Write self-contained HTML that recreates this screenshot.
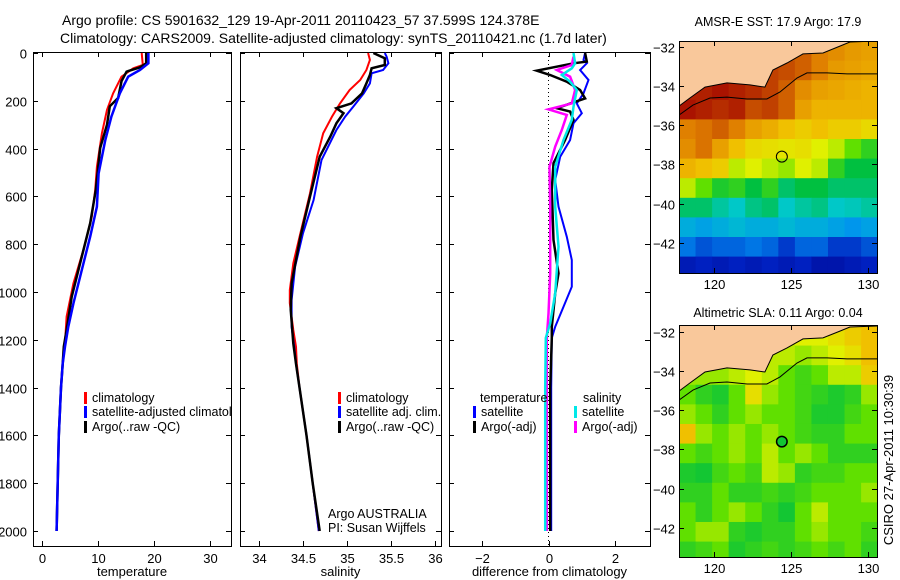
<!DOCTYPE html>
<html><head><meta charset="utf-8">
<style>
html,body{margin:0;padding:0;background:#fff;}
svg{display:block;font-family:"Liberation Sans",sans-serif;}
</style></head>
<body>
<svg id="fig" width="900" height="580" viewBox="0 0 900 580" xmlns="http://www.w3.org/2000/svg"></svg>
<script>
// ---------- DATA ----------
const climTempDepth = [0,50,64,99,169,238,336,476,573,685,824,964,1103,1214,1300,1400,1500,1600];
const climTempVal   = [17.8,18.0,16.3,14.2,12.7,11.6,10.7,9.8,9.5,8.9,7.4,5.6,4.4,4.1,3.7,3.4,3.2,3.0];
const satTempDepth  = [0,43,71,99,169,266,364,504,643,768,908,1048,1145,1229,1300,1400,1500,1600,1800,2000];
const satTempVal    = [19.0,19.0,17.5,15.4,13.9,12.4,11.3,10.1,9.8,8.6,7.1,5.6,4.7,4.1,3.7,3.4,3.2,3.0,2.8,2.6];
const argoTempDepth = [0,43,60,78,118,188,223,300,397,573,712,880,1020,1159,1229,1300,1400,1500,1600,1800,2000];
const argoTempVal   = [18.6,18.6,17.5,15.1,14.2,13.6,12.1,11.6,10.4,9.6,8.6,6.8,5.3,4.4,3.9,3.7,3.4,3.2,3.0,2.8,2.6];

const climSalDepth = [0,29,71,113,155,211,266,336,434,587,754,880,992,1046,1159,1229,1300,1400,1500,1600,1800,2000];
const climSalVal   = [35.24,35.26,35.22,35.15,35.03,34.92,34.83,34.73,34.66,34.58,34.47,34.39,34.35,34.35,34.39,34.42,34.43,34.46,34.50,34.54,34.61,34.68];
const satSalDepth  = [0,15,43,71,85,127,169,225,266,322,448,615,754,894,1034,1145,1229,1300,1400,1500,1600,1800,2000];
const satSalVal    = [35.43,35.45,35.47,35.41,35.28,35.26,35.19,35.07,34.98,34.88,34.71,34.62,34.50,34.41,34.37,34.37,34.40,34.42,34.46,34.50,34.54,34.61,34.68];
const argoSalDepth = [0,22,50,64,92,127,169,211,231,252,294,350,434,601,769,964,1073,1215,1300,1400,1500,1600,1800,2000];
const argoSalVal   = [35.30,35.43,35.43,35.28,35.26,35.22,35.17,35.05,34.88,34.96,34.88,34.81,34.69,34.58,34.47,34.37,34.36,34.39,34.42,34.46,34.50,34.54,34.61,34.69];

const dSatTDepth = [0,29,43,71,113,169,211,252,294,364,434,531,643,769,866,978,1062,1145,1192,1400,1700,2000];
const dSatTVal   = [1.1,1.05,1.15,0.95,1.2,1.05,0.85,1.0,0.75,0.65,0.35,0.2,0.3,0.55,0.7,0.7,0.45,0.2,0.1,0.08,0.08,0.08];
const dArgoTDepth = [0,36,43,74,92,120,155,190,204,231,245,280,364,461,573,782,922,1006,1145,1192,1400,1700,2000];
const dArgoTVal   = [1.1,1.15,0.75,-0.35,0.05,0.55,0.95,1.1,0.8,0.25,0.65,0.75,0.5,0.15,0.1,0.15,0.3,0.2,0.1,0.1,0.05,0.05,0.05];
const dSatSDepth = [0,43,64,92,120,155,225,280,364,476,643,810,1006,1131,1192,1400,1700,2000];
const dSatSVal   = [0.75,0.8,0.7,0.4,0.65,0.85,0.75,0.7,0.45,0.2,0.2,0.3,0.2,0.05,-0.08,-0.1,-0.1,-0.1];
const dArgoSDepth = [15,50,71,99,155,211,236,259,322,392,476,643,922,1090,1192,1500,2000];
const dArgoSVal   = [0.75,0.7,0.25,0.65,0.8,0.7,0.0,0.55,0.4,0.2,0.03,0.05,0.05,0.0,-0.05,-0.05,-0.05];

const depthTicks = [0,200,400,600,800,1000,1200,1400,1600,1800,2000];
const tempTicks = [0,10,20,30];
const salTicks = [34,34.5,35,35.5,36];
const salTickLabels = ["34","34.5","35","35.5","36"];
const diffTicks = [-2,0,2];

const sstGrid = [
[0.9,0.9,0.9,0.9,0.9,0.9,0.85,0.85,0.8,0.78,0.76,0.75],
[0.9,0.9,0.9,0.9,0.9,0.9,0.88,0.85,0.8,0.76,0.75,0.74],
[0.95,0.95,0.97,0.95,0.93,0.9,0.85,0.78,0.75,0.74,0.73,0.72],
[0.97,0.95,0.93,0.95,0.88,0.9,0.85,0.75,0.72,0.72,0.72,0.72],
[0.8,0.82,0.85,0.8,0.75,0.73,0.7,0.68,0.7,0.68,0.68,0.66],
[0.78,0.82,0.75,0.7,0.66,0.65,0.64,0.65,0.62,0.6,0.55,0.5],
[0.72,0.7,0.68,0.6,0.62,0.6,0.58,0.62,0.6,0.5,0.45,0.45],
[0.6,0.55,0.48,0.5,0.45,0.5,0.42,0.45,0.45,0.42,0.42,0.42],
[0.42,0.42,0.38,0.35,0.4,0.42,0.35,0.38,0.4,0.35,0.36,0.38],
[0.3,0.28,0.3,0.32,0.3,0.3,0.32,0.3,0.3,0.28,0.26,0.28],
[0.22,0.18,0.2,0.2,0.22,0.2,0.15,0.2,0.2,0.15,0.15,0.18],
[0.1,0.12,0.1,0.12,0.1,0.12,0.1,0.12,0.08,0.08,0.1,0.12]];
const slaGrid = [
[0.6,0.6,0.6,0.6,0.6,0.6,0.6,0.62,0.62,0.65,0.68,0.7],
[0.6,0.6,0.6,0.6,0.6,0.6,0.6,0.58,0.6,0.62,0.65,0.7],
[0.58,0.58,0.58,0.6,0.62,0.6,0.55,0.52,0.55,0.6,0.6,0.68],
[0.55,0.5,0.48,0.55,0.65,0.58,0.55,0.52,0.5,0.48,0.5,0.58],
[0.58,0.55,0.5,0.55,0.58,0.55,0.55,0.52,0.48,0.48,0.52,0.55],
[0.7,0.58,0.55,0.58,0.55,0.58,0.55,0.52,0.5,0.5,0.55,0.55],
[0.55,0.52,0.55,0.58,0.55,0.6,0.55,0.58,0.55,0.5,0.5,0.5],
[0.48,0.47,0.52,0.55,0.52,0.6,0.58,0.5,0.52,0.52,0.55,0.55],
[0.5,0.5,0.55,0.5,0.5,0.52,0.5,0.52,0.55,0.55,0.55,0.58],
[0.55,0.5,0.55,0.58,0.55,0.5,0.47,0.55,0.6,0.55,0.55,0.55],
[0.55,0.58,0.58,0.5,0.48,0.5,0.5,0.55,0.58,0.55,0.55,0.52],
[0.5,0.52,0.55,0.48,0.5,0.52,0.5,0.52,0.55,0.52,0.55,0.5]];
const coastLon = [117.7,118.41,119.39,120.82,122.31,123.28,123.8,124.71,125.75,127.05,128.15,128.8,130.6];
const coastLat = [-35.02,-34.61,-34.05,-33.84,-33.94,-34.05,-33.18,-32.82,-32.36,-32.31,-31.96,-31.75,-31.7];
const isoLon = [117.7,118.61,119.71,120.82,122.12,123.41,124.26,125.36,126.01,127.31,128.61,130.6];
const isoLat = [-35.48,-34.97,-34.61,-34.56,-34.66,-34.66,-34.30,-33.59,-33.33,-33.33,-33.38,-33.38];
const floatLon = 124.378, floatLat = -37.599;
const latTicks = [-32,-34,-36,-38,-40,-42];
const lonTicks = [120,125,130];

// ---------- SCALES ----------
const yD = z => 53 + 0.239*z;
const xT = t => 42 + 5.6*t;
const xS = s => 259 + 88*(s-34);
const xDf = d => 548.5 + 33.3*d;
const LON0=117.7, LON1=130.6, LAT0=-31.7, LAT1=-43.5;
const mx = lon => 679 + 15.4*(lon-LON0);
const my1 = lat => 41 + 19.6*(LAT0-lat);
const my2 = lat => 325 + 19.6*(-31.65-lat);

const NS="http://www.w3.org/2000/svg";
const svg=document.getElementById('fig');
function el(tag, attrs, parent){
  const e=document.createElementNS(NS,tag);
  for(const k in attrs) e.setAttribute(k,attrs[k]);
  (parent||svg).appendChild(e);
  return e;
}
function txt(x,y,s,size,anchor,name,parent){
  const t=el('text',{x:x,y:y,'font-size':size,'text-anchor':anchor||'start',fill:'#000'},parent);
  t.textContent=s;
  
  
  return t;
}

txt(62,25,"Argo profile: CS 5901632_129 19-Apr-2011 20110423_57 37.599S 124.378E",14,'start','title-line-1');
txt(60,43,"Climatology: CARS2009. Satellite-adjusted climatology: synTS_20110421.nc (1.7d later)",14,'start','title-line-2');

const panels=[
 {x0:33,x1:231,name:'temperature-panel',xf:xT,ticks:tempTicks,labels:tempTicks.map(String),xlabel:'temperature'},
 {x0:240,x1:441,name:'salinity-panel',xf:xS,ticks:salTicks,labels:salTickLabels,xlabel:'salinity'},
 {x0:449,x1:650,name:'difference-panel',xf:xDf,ticks:diffTicks,labels:diffTicks.map(d=>d<0?'\u2212'+(-d):String(d)),xlabel:'difference from climatology'}];
const Y0=52,Y1=546;
panels.forEach((p,pi)=>{
  const g=el('g',{});
  
  
  const r=el('rect',{x:p.x0+0.5,y:Y0+0.5,width:p.x1-p.x0,height:Y1-Y0,fill:'#fff',stroke:'#000','stroke-width':1},g);
  
  
  depthTicks.forEach(d=>{
    const y=Math.round(yD(d))+0.5;
    const t1=el('path',{d:`M${p.x0} ${y}h5M${p.x1} ${y}h-5`,stroke:'#000','stroke-width':1},g);
    
    
    if(pi===0){ txt(p.x0-6,y+5,String(d),13,'end','y-tick-label',g); }
  });
  p.ticks.forEach((v,i)=>{
    const x=Math.round(p.xf(v))+0.5;
    const t2=el('path',{d:`M${x} ${Y0}v5M${x} ${Y1}v-5`,stroke:'#000','stroke-width':1},g);
    
    
    txt(x,563,p.labels[i],13,'middle','x-tick-label',g);
  });
  txt((p.x0+p.x1)/2,576,p.xlabel,13,'middle','x-axis-title',g);
});

const defs=el('defs',{});
panels.forEach((p,i)=>{
  const c=el('clipPath',{id:'pc'+i},defs);
  el('rect',{x:p.x0,y:Y0,width:p.x1-p.x0,height:Y1-Y0},c);
});
function line(depths,vals,xf,color,w,name,clip){
  const d=depths.map((z,i)=>(i?'L':'M')+xf(vals[i]).toFixed(1)+' '+yD(z).toFixed(1)).join('');
  const p=el('path',{d:d,fill:'none',stroke:color,'stroke-width':w,'stroke-linejoin':'miter','clip-path':`url(#${clip})`});
  
  
}
const zl=el('line',{x1:xDf(0),x2:xDf(0),y1:Y0,y2:Y1,stroke:'#000','stroke-width':1,'stroke-dasharray':'1,3'});



line(climTempDepth,climTempVal,xT,'#ff0000',2,'temp-climatology-line','pc0');
line(argoTempDepth,argoTempVal,xT,'#000000',2.5,'temp-argo-line','pc0');
line(satTempDepth,satTempVal,xT,'#0000ff',2.5,'temp-satellite-line','pc0');
line(climSalDepth,climSalVal,xS,'#ff0000',2,'sal-climatology-line','pc1');
line(satSalDepth,satSalVal,xS,'#0000ff',2,'sal-satellite-line','pc1');
line(argoSalDepth,argoSalVal,xS,'#000000',2.5,'sal-argo-line','pc1');
line(dSatTDepth,dSatTVal,xDf,'#0000ff',2,'diff-temp-satellite-line','pc2');
line(dArgoTDepth,dArgoTVal,xDf,'#000000',2.5,'diff-temp-argo-line','pc2');
line(dArgoSDepth,dArgoSVal,xDf,'#ff00ff',2.5,'diff-sal-argo-line','pc2');
line(dSatSDepth,dSatSVal,xDf,'#00e8e8',2.5,'diff-sal-satellite-line','pc2');

function legEntry(x,y,color,label,clip){
  const g=el('g',{'clip-path':clip?`url(#${clip})`:''});
  
  
  const m=el('rect',{x:x,y:y-10,width:3,height:12,fill:color},g);
  
  
  if(label) txt(x+8,y,label,12.5,'start','legend-label',g);
}
legEntry(84,402,'#ff0000','climatology','pc0');
legEntry(84,416,'#0000ff','satellite-adjusted climatology','pc0');
legEntry(84,431,'#000000','Argo(..raw -QC)','pc0');
legEntry(338,402,'#ff0000','climatology');
legEntry(338,416,'#0000ff','satellite adj. clim.');
legEntry(338,431,'#000000','Argo(..raw -QC)');
txt(480,402,'temperature',12.5,'start','legend-heading-temperature');
txt(583,402,'salinity',12.5,'start','legend-heading-salinity');
legEntry(473,416,'#0000ff','satellite');
legEntry(473,431,'#000000','Argo(-adj)');
legEntry(574,416,'#00e8e8','satellite');
legEntry(574,431,'#ff00ff','Argo(-adj)');
txt(328,518,'Argo AUSTRALIA',12.5,'start','credit-argo-australia');
txt(328,532,'PI: Susan Wijffels',12.5,'start','credit-pi');

// ---------- MAPS ----------
const cmapStops=[[0,[0,0,128]],[0.12,[0,32,192]],[0.25,[0,144,240]],[0.35,[0,200,200]],[0.45,[0,192,64]],[0.55,[96,224,0]],[0.62,[224,240,0]],[0.7,[240,192,0]],[0.8,[224,128,0]],[0.9,[192,64,0]],[1,[160,0,0]]];
function cmap(v){
  for(let i=1;i<cmapStops.length;i++){
    if(v<=cmapStops[i][0]){
      const a=cmapStops[i-1],b=cmapStops[i],f=(v-a[0])/(b[0]-a[0]);
      return 'rgb('+a[1].map((c,k)=>Math.round(c+(b[1][k]-c)*f)).join(',')+')';
    }
  }
  return 'rgb(160,0,0)';
}
function drawMap(grid,myf,top,name,title,titleY){
  const g=el('g',{});
  
  
  const cid=name+'-clip';
  const c=el('clipPath',{id:cid},defs);
  el('rect',{x:679,y:top,width:198,height:232},c);
  const cells=el('g',{'clip-path':`url(#${cid})`},g);
  const nr=grid.length,nc=grid[0].length;
  const dlon=(LON1-LON0)/nc, dlat=12/nr;
  grid.forEach((row,r)=>row.forEach((v,ci)=>{
    const x0=mx(LON0+ci*dlon), x1=mx(LON0+(ci+1)*dlon);
    const y0=myf(LAT0-r*dlat), y1=myf(LAT0-(r+1)*dlat);
    const cell=el('rect',{x:x0,y:y0,width:x1-x0+0.6,height:y1-y0+0.6,fill:cmap(v)},cells);
    
    
  }));
  let lp=coastLon.map((l,i)=>(i?'L':'M')+mx(l).toFixed(1)+' '+myf(coastLat[i]).toFixed(1)).join('');
  lp+=`L${mx(LON1)} ${top-2}L${mx(LON0)} ${top-2}Z`;
  const land=el('path',{d:lp,fill:'#f9c89b',stroke:'#000','stroke-width':1},cells);
  
  
  const ip=isoLon.map((l,i)=>(i?'L':'M')+mx(l).toFixed(1)+' '+myf(isoLat[i]).toFixed(1)).join('');
  const iso=el('path',{d:ip,fill:'none',stroke:'#000','stroke-width':1},cells);
  
  
  const fc=el('circle',{cx:mx(floatLon),cy:myf(floatLat),r:5.5,fill:'none',stroke:'#000','stroke-width':1},g);
  
  
  const fr=el('rect',{x:679.5,y:top+0.5,width:198,height:232,fill:'none',stroke:'#000','stroke-width':1},g);
  
  
  latTicks.forEach(l=>{
    const y=Math.round(myf(l))+0.5;
    const t=el('path',{d:`M679 ${y}h5M877 ${y}h-5`,stroke:'#000'},g);
    
    
    txt(675,y+5,'\u2212'+(-l),13,'end','lat-tick-label',g);
  });
  lonTicks.forEach(l=>{
    const x=Math.round(mx(l))+0.5;
    const t=el('path',{d:`M${x} ${top}v5M${x} ${top+232}v-5`,stroke:'#000'},g);
    
    
    txt(x,top+248,String(l),13,'middle','lon-tick-label',g);
  });
  txt(778,titleY,title,12.5,'middle','map-title',g);
}
drawMap(sstGrid,my1,41,'sst-map','AMSR-E SST: 17.9 Argo: 17.9',26);
drawMap(slaGrid,my2,325,'sla-map','Altimetric SLA: 0.11 Argo: 0.04',317);
const slaDot=el('circle',{cx:mx(floatLon),cy:my2(floatLat),r:5,fill:cmap(0.47),stroke:'#000','stroke-width':1});



const stamp=txt(0,0,'CSIRO 27-Apr-2011 10:30:39',13,'middle','timestamp');
stamp.setAttribute('transform','translate(893,460) rotate(-90)');
</script>
</body></html>
